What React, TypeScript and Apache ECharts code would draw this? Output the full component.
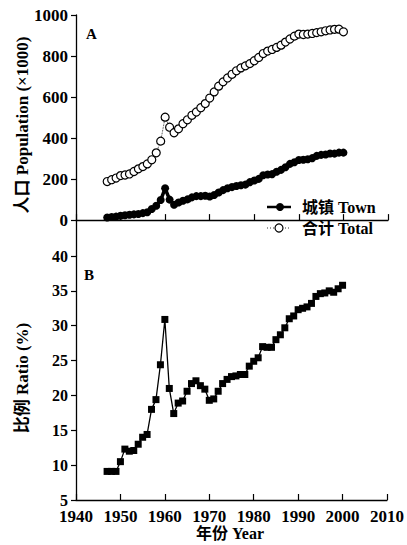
import React, { useEffect, useRef } from "react";
import * as echarts from "echarts";

const years: number[] = [];
for (let y = 1947; y <= 2000; y++) years.push(y);

const totalPop = [188, 197, 205, 217, 220, 225, 237, 250, 261, 274, 294, 328, 385, 502, 453, 426, 445, 470, 489, 511, 527, 548, 568, 595, 625, 653, 674, 693, 711, 728, 742, 752, 763, 777, 793, 812, 824, 832, 842, 853, 868, 883, 897, 907, 905, 907, 910, 914, 918, 923, 927, 930, 931, 918];
const townPop = [13, 15, 17, 21, 24, 26, 28, 30, 34, 38, 54, 70, 98, 155, 100, 75, 86, 94, 101, 111, 117, 117, 119, 115, 122, 135, 146, 155, 161, 166, 170, 173, 185, 193, 201, 219, 222, 224, 236, 245, 258, 274, 282, 293, 294, 297, 302, 313, 318, 320, 325, 324, 329, 329];
const ratio = [9.1, 9.1, 9.1, 10.5, 12.3, 12.0, 12.1, 13.0, 14.0, 14.4, 18.0, 19.4, 24.4, 30.9, 21.0, 17.4, 18.9, 19.2, 20.6, 21.7, 22.1, 21.4, 20.9, 19.3, 19.5, 20.6, 21.7, 22.3, 22.7, 22.8, 23.0, 23.0, 24.2, 24.9, 25.4, 27.0, 26.9, 26.9, 28.0, 28.7, 29.7, 31.0, 31.4, 32.3, 32.5, 32.7, 33.2, 34.2, 34.6, 34.7, 35.0, 34.8, 35.3, 35.8];
const popTicks = [0, 200, 400, 600, 800, 1000];

const FONT = "'Liberation Serif', 'Noto Sans CJK SC', serif";

export default function App() {
  const ref = useRef<HTMLDivElement>(null);
  useEffect(() => {
    if (!ref.current) return;
    const chart = echarts.init(ref.current, null, { renderer: "svg" });
    const pair = (vals: number[]) => years.map((y, i) => [y, vals[i]]);
    const axisLine = { show: true, lineStyle: { color: "#000", width: 1.3 } };
    const labelStyle = {
      show: true,
      color: "#000",
      fontFamily: FONT,
      fontWeight: "bold",
      fontSize: 17,
      formatter: (v: number) => String(v),
    };
    const xBase = {
      type: "value",
      min: 1940,
      max: 2010,
      interval: 10,
      axisLine,
      axisTick: { show: true, inside: true, length: 6, lineStyle: { color: "#000", width: 1.2 } },
      splitLine: { show: false },
    };
    chart.setOption({
      animation: false,
      backgroundColor: "#fff",
      grid: [
        { left: 76, right: 19, top: 15, height: 241 },
        { left: 76, right: 19, top: 256, height: 244 },
      ],
      xAxis: [
        { ...xBase, gridIndex: 0, axisLabel: { show: false } },
        { ...xBase, gridIndex: 1, axisLabel: { ...labelStyle, margin: 8 } },
      ],
      yAxis: [
        {
          type: "value",
          gridIndex: 0,
          min: -175,
          max: 1000,
          axisLine,
          axisTick: { show: true, length: 5, customValues: popTicks, lineStyle: { color: "#000", width: 1.2 } },
          axisLabel: { ...labelStyle, customValues: popTicks, margin: 8 },
          splitLine: { show: false },
        },
        {
          type: "value",
          gridIndex: 1,
          min: 5,
          max: 40,
          interval: 5,
          axisLine,
          axisTick: { show: true, length: 5, lineStyle: { color: "#000", width: 1.2 } },
          axisLabel: { ...labelStyle, fontSize: 16, margin: 8 },
          splitLine: { show: false },
        },
      ],
      series: [
        {
          type: "line",
          xAxisIndex: 0,
          yAxisIndex: 0,
          data: pair(totalPop),
          symbol: "circle",
          symbolSize: 8,
          lineStyle: { color: "#000", width: 0.8, type: "dotted" },
          itemStyle: { color: "#fff", borderColor: "#000", borderWidth: 1.2 },
          z: 2,
        },
        {
          type: "line",
          xAxisIndex: 0,
          yAxisIndex: 0,
          data: pair(townPop),
          symbol: "circle",
          symbolSize: 8,
          lineStyle: { color: "#000", width: 3.5 },
          itemStyle: { color: "#000" },
          z: 3,
        },
        {
          type: "line",
          xAxisIndex: 1,
          yAxisIndex: 1,
          data: pair(ratio),
          symbol: "rect",
          symbolSize: 7,
          lineStyle: { color: "#000", width: 1.3 },
          itemStyle: { color: "#000" },
        },
      ],
      graphic: [
        { type: "text", left: 86, top: 26, style: { text: "A", font: `bold 15px ${FONT}`, fill: "#000" } },
        { type: "text", left: 84, top: 267, style: { text: "B", font: `bold 15px ${FONT}`, fill: "#000" } },
        {
          type: "text",
          x: 22,
          y: 125,
          rotation: Math.PI / 2,
          style: { text: "人口 Population (×1000)", font: `bold 17px ${FONT}`, fill: "#000", align: "center", verticalAlign: "middle" },
        },
        {
          type: "text",
          x: 22,
          y: 378,
          rotation: Math.PI / 2,
          style: { text: "比例 Ratio (%)", font: `bold 17px ${FONT}`, fill: "#000", align: "center", verticalAlign: "middle" },
        },
        {
          type: "text",
          x: 230,
          y: 533,
          style: { text: "年份 Year", font: `bold 16px ${FONT}`, fill: "#000", align: "center", verticalAlign: "middle" },
        },
        { type: "line", shape: { x1: 267, y1: 207, x2: 291, y2: 207 }, style: { stroke: "#000", lineWidth: 2.5 } },
        { type: "circle", shape: { cx: 280, cy: 207, r: 4 }, style: { fill: "#000" } },
        { type: "text", x: 302, y: 207, style: { text: "城镇 Town", font: `bold 16px ${FONT}`, fill: "#000", verticalAlign: "middle" } },
        { type: "line", shape: { x1: 267, y1: 228, x2: 291, y2: 228 }, style: { stroke: "#000", lineWidth: 0.8, lineDash: [1, 2] } },
        { type: "circle", shape: { cx: 279, cy: 228, r: 4 }, style: { fill: "#fff", stroke: "#000", lineWidth: 1.2 } },
        { type: "text", x: 302, y: 228, style: { text: "合计 Total", font: `bold 16px ${FONT}`, fill: "#000", verticalAlign: "middle" } },
      ],
    });
    return () => chart.dispose();
  }, []);
  return <div ref={ref} style={{ position: "fixed", left: 0, top: 0, width: 407, height: 545 }} />;
}
